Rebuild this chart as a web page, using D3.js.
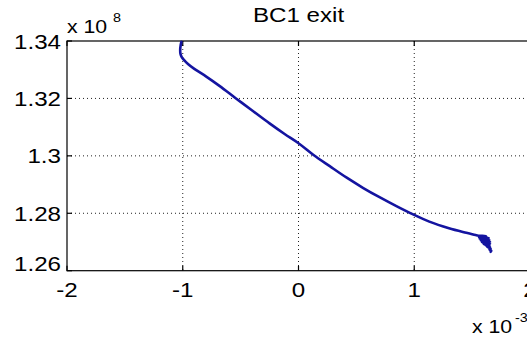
<!DOCTYPE html>
<html>
<head>
<meta charset="utf-8">
<script src="https://cdn.jsdelivr.net/npm/d3@7"></script>
<style>
  html, body { margin: 0; padding: 0; background: #fff; }
  svg { display: block; }
  text { font-family: "Liberation Sans", Arial, sans-serif; fill: #000; }
</style>
</head>
<body>
<svg id="chart" width="527" height="338"></svg>
<script>
// Trajectory at BC1 exit: x in units of 1e-3, y in units of 1e8
const xVals = [-1.012, -1.018, -1.022, -1.020, -1.010, -0.990, -0.955, -0.900, -0.800, -0.680,
               -0.540, -0.400, -0.250, -0.120, 0.000, 0.130, 0.270, 0.420, 0.560, 0.700,
               0.850, 0.990, 1.130, 1.300, 1.450, 1.530,
               1.555, 1.620, 1.560, 1.645, 1.565, 1.650, 1.575, 1.655, 1.585, 1.655,
               1.600, 1.650, 1.615, 1.655, 1.630, 1.660, 1.650, 1.665, 1.660];
const yVals = [1.3397, 1.3385, 1.3370, 1.3356, 1.3345, 1.3334, 1.3320, 1.3303, 1.3277, 1.3243,
               1.3200, 1.3158, 1.3113, 1.3076, 1.3044, 1.3003, 1.2964, 1.2923, 1.2888, 1.2856,
               1.2824, 1.2796, 1.2771, 1.2748, 1.2732, 1.2724,
               1.2722, 1.2720, 1.2716, 1.2714, 1.2711, 1.2707, 1.2705, 1.2700, 1.2699, 1.2694,
               1.2693, 1.2688, 1.2688, 1.2683, 1.2683, 1.2677, 1.2674, 1.2670, 1.2666];

const xTicks = [-2, -1, 0, 1, 2];
const yTicks = [1.26, 1.28, 1.30, 1.32, 1.34];
const xTickLabels = ["-2", "-1", "0", "1", "2"];
const yTickLabels = ["1.26", "1.28", "1.3", "1.32", "1.34"];
const titleText = "BC1 exit";

const svg = d3.select("#chart");
const plotLeft = 67, plotTop = 41, plotW = 463, plotH = 229.7;
const stretch = 1.15;   // horizontal widening of all lettering

const x = d3.scaleLinear().domain([-2, 2]).range([plotLeft, plotLeft + plotW]);
const y = d3.scaleLinear().domain([1.26, 1.34]).range([plotTop + plotH, plotTop]);

// text placed at (px, py) and widened horizontally about that point
function label(px, py, size, anchor) {
  return svg.append("text")
    .attr("transform", `translate(${px},${py}) scale(${stretch},1)`)
    .attr("font-size", size).attr("text-anchor", anchor || "start");
}

// dotted grid at the interior ticks
const grid = svg.append("g")
  .attr("stroke", "#222").attr("stroke-width", 1).attr("stroke-dasharray", "1,3");
xTicks.slice(1, -1).forEach(t => {
  grid.append("line").attr("x1", x(t)).attr("x2", x(t)).attr("y1", y(1.34)).attr("y2", y(1.26));
});
yTicks.slice(1, -1).forEach(t => {
  grid.append("line").attr("x1", x(-2)).attr("x2", x(2)).attr("y1", y(t)).attr("y2", y(t));
});

// axes box (right side lies past the window edge)
const box = svg.append("g").attr("stroke", "#000").attr("stroke-width", 1.2).attr("fill", "none");
box.append("rect").attr("x", x(-2)).attr("y", y(1.34))
  .attr("width", x(2) - x(-2)).attr("height", y(1.26) - y(1.34));

// inward tick marks
const tl = 5;
xTicks.forEach(t => {
  box.append("line").attr("x1", x(t)).attr("x2", x(t)).attr("y1", y(1.26)).attr("y2", y(1.26) - tl);
  box.append("line").attr("x1", x(t)).attr("x2", x(t)).attr("y1", y(1.34)).attr("y2", y(1.34) + tl);
});
yTicks.forEach(t => {
  box.append("line").attr("x1", x(-2)).attr("x2", x(-2) + tl).attr("y1", y(t)).attr("y2", y(t));
});

// tick labels
const fs = 21;
xTicks.forEach((t, i) => {
  label(x(t), y(1.26) + 26, fs, "middle").text(xTickLabels[i]);
});
yTicks.forEach((t, i) => {
  label(x(-2) - 6, y(t) + 7.5 + (i === 0 ? -7 : 0), fs, "end").text(yTickLabels[i]);
});

// exponent labels
label(x(-2), 33.3, 18.5).text("x 10");
label(x(-2) + 46, 22, 12.5).text("8");
label(472, 333, 18.5).text("x 10");
label(472 + 43, 322, 12.5).text("-3");

// title
label((x(-2) + x(2)) / 2, 22, fs, "middle").text(titleText);

// trajectory
const line = d3.line().x(d => x(d[0])).y(d => y(d[1])).curve(d3.curveCatmullRom.alpha(0.5));
svg.append("path")
  .datum(xVals.map((v, i) => [v, yVals[i]]))
  .attr("d", line)
  .attr("fill", "none").attr("stroke", "#1414a0").attr("stroke-width", 2.6)
  .attr("stroke-linejoin", "round").attr("stroke-linecap", "round");
</script>
</body>
</html>
